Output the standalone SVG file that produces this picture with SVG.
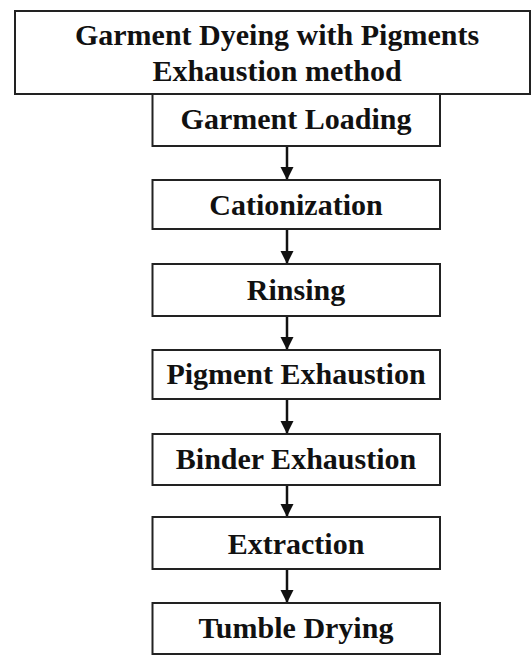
<svg xmlns="http://www.w3.org/2000/svg" width="532" height="657" viewBox="0 0 532 657">
  <defs>
    <style>
      .box { fill: #ffffff; stroke: #222222; stroke-width: 2; }
      .lbl { font-family: "Liberation Serif", "Times New Roman", serif; font-weight: bold; font-size: 30px; fill: #111111; text-anchor: middle; }
      .conn { stroke: #111111; stroke-width: 2.5; fill: none; }
    </style>
    <marker id="ah" markerUnits="userSpaceOnUse" markerWidth="13" markerHeight="14" viewBox="0 0 13 14" refX="13" refY="7" orient="auto">
      <polygon points="0,0.5 13,7 0,13.5" fill="#111111"/>
    </marker>
  </defs>
  <rect width="532" height="657" fill="#ffffff"/>

  <g id="title">
    <rect class="box" x="15" y="11" width="515" height="83"/>
    <text class="lbl" x="277" y="45">Garment Dyeing with Pigments</text>
    <text class="lbl" x="277" y="81">Exhaustion method</text>
  </g>

  <g id="connectors">
    <line class="conn" x1="287" y1="146" x2="287" y2="180" marker-end="url(#ah)"/>
    <line class="conn" x1="287" y1="229" x2="287" y2="264" marker-end="url(#ah)"/>
    <line class="conn" x1="287" y1="316" x2="287" y2="350" marker-end="url(#ah)"/>
    <line class="conn" x1="287" y1="399" x2="287" y2="434" marker-end="url(#ah)"/>
    <line class="conn" x1="287" y1="485" x2="287" y2="517" marker-end="url(#ah)"/>
    <line class="conn" x1="287" y1="569" x2="287" y2="603" marker-end="url(#ah)"/>
  </g>

  <g id="garment-loading">
    <rect class="box" x="152.5" y="94" width="287.5" height="52"/>
    <text class="lbl" x="296" y="129">Garment Loading</text>
  </g>
  <g id="cationization">
    <rect class="box" x="152.5" y="180" width="287.5" height="49"/>
    <text class="lbl" x="296" y="215">Cationization</text>
  </g>
  <g id="rinsing">
    <rect class="box" x="152.5" y="264" width="287.5" height="52"/>
    <text class="lbl" x="296" y="300">Rinsing</text>
  </g>
  <g id="pigment-exhaustion">
    <rect class="box" x="152.5" y="350" width="287.5" height="49"/>
    <text class="lbl" x="296" y="384">Pigment Exhaustion</text>
  </g>
  <g id="binder-exhaustion">
    <rect class="box" x="152.5" y="434" width="287.5" height="51"/>
    <text class="lbl" x="296" y="469">Binder Exhaustion</text>
  </g>
  <g id="extraction">
    <rect class="box" x="152.5" y="517" width="287.5" height="52"/>
    <text class="lbl" x="296" y="554">Extraction</text>
  </g>
  <g id="tumble-drying">
    <rect class="box" x="152.5" y="603" width="287.5" height="51"/>
    <text class="lbl" x="296" y="638">Tumble Drying</text>
  </g>
</svg>
